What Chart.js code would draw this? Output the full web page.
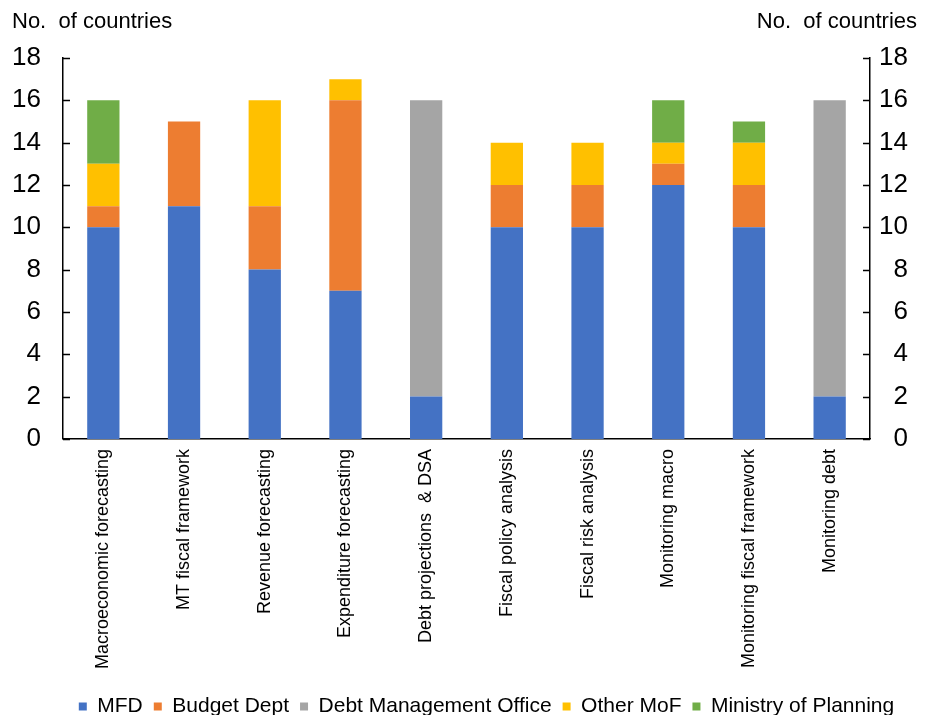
<!DOCTYPE html>
<html>
<head>
<meta charset="utf-8">
<script src="https://cdn.jsdelivr.net/npm/chart.js@4"></script>
<style>
  html, body { margin: 0; padding: 0; background: #fff; }
  #wrap { width: 925px; height: 715px; }
</style>
</head>
<body>
<div id="wrap"><canvas id="chart" width="925" height="715"></canvas></div>
<script>
// categories and series
const categories = [
	"Macroeconomic forecasting", "MT fiscal framework", "Revenue forecasting",
	"Expenditure forecasting", "Debt projections  & DSA", "Fiscal policy analysis",
	"Fiscal risk analysis", "Monitoring macro", "Monitoring fiscal framework", "Monitoring debt"
];
const mfd      = [10, 11, 8, 7, 2, 10, 10, 12, 10, 2];
const budget   = [1, 4, 3, 9, 0, 2, 2, 1, 2, 0];
const debtMgmt = [0, 0, 0, 0, 14, 0, 0, 0, 0, 14];
const otherMof = [2, 0, 5, 1, 0, 2, 2, 1, 2, 0];
const planning = [3, 0, 0, 0, 0, 0, 0, 2, 1, 0];
const yTicks = [0, 2, 4, 6, 8, 10, 12, 14, 16, 18];
const axisTitle = "No.  of countries";

const FONT = "'Liberation Sans', Arial, sans-serif";

// inward tick marks, top axis titles, legend nudged right
const extras = {
	id: 'extras',
	afterLayout(chart) {
		chart.legend.left += 26;
		chart.legend.right += 26;
	},
	afterDraw(chart) {
		const c = chart.ctx;
		const yl = chart.scales.y, yr = chart.scales.y2;
		c.save();
		c.strokeStyle = '#000';
		c.lineWidth = 1.5;
		yTicks.forEach(v => {
			const py = Math.round(yl.getPixelForValue(v)) + 0.5;
			c.beginPath();
			c.moveTo(yl.right, py); c.lineTo(yl.right + 7, py);
			c.moveTo(yr.left, py); c.lineTo(yr.left - 7, py);
			c.stroke();
		});
		c.fillStyle = '#000';
		c.font = '22px ' + FONT;
		c.textBaseline = 'middle';
		c.textAlign = 'left';
		c.fillText(axisTitle, 12, 22);
		c.textAlign = 'right';
		c.fillText(axisTitle, 917, 22);
		c.restore();
	}
};

const colors = ['#4472C4', '#ED7D31', '#A5A5A5', '#FFC000', '#70AD47'];
const names = ['MFD', 'Budget Dept', 'Debt Management Office', 'Other MoF', 'Ministry of Planning'];
const series = [mfd, budget, debtMgmt, otherMof, planning];

new Chart(document.getElementById('chart').getContext('2d'), {
	type: 'bar',
	data: {
		labels: categories,
		datasets: series.map((d, i) => ({
			label: names[i],
			data: d,
			backgroundColor: colors[i],
			borderWidth: 0,
			categoryPercentage: 1,
			barPercentage: 0.4
		}))
	},
	options: {
		responsive: false,
		animation: false,
		layout: { padding: { top: 58, left: 13, right: 17, bottom: -12 } },
		plugins: {
			legend: {
				position: 'bottom',
				labels: {
					boxWidth: 8, boxHeight: 8, padding: 11,
					color: '#000',
					font: { family: FONT, size: 21 }
				}
			},
			tooltip: { enabled: false }
		},
		scales: {
			x: {
				stacked: true,
				grid: { display: false, drawTicks: false },
				border: { color: '#000', width: 1.5 },
				ticks: {
					maxRotation: 90, minRotation: 90, padding: 10,
					color: '#000',
					font: { family: FONT, size: 18 }
				},
				afterFit(scale) { scale.height += 6; }
			},
			y: {
				stacked: true,
				min: 0, max: 18,
				grid: { display: false, drawTicks: false },
				border: { color: '#000', width: 1.5 },
				ticks: {
					stepSize: 2, padding: 22,
					color: '#000',
					font: { family: FONT, size: 26 }
				},
				afterFit(scale) { scale.width = 50; }
			},
			y2: {
				position: 'right',
				min: 0, max: 18,
				grid: { display: false, drawTicks: false },
				border: { color: '#000', width: 1.5 },
				ticks: {
					stepSize: 2, padding: 9, crossAlign: 'far',
					color: '#000',
					font: { family: FONT, size: 26 }
				},
				afterFit(scale) { scale.width = 38; }
			}
		}
	},
	plugins: [extras]
});
</script>
</body>
</html>
